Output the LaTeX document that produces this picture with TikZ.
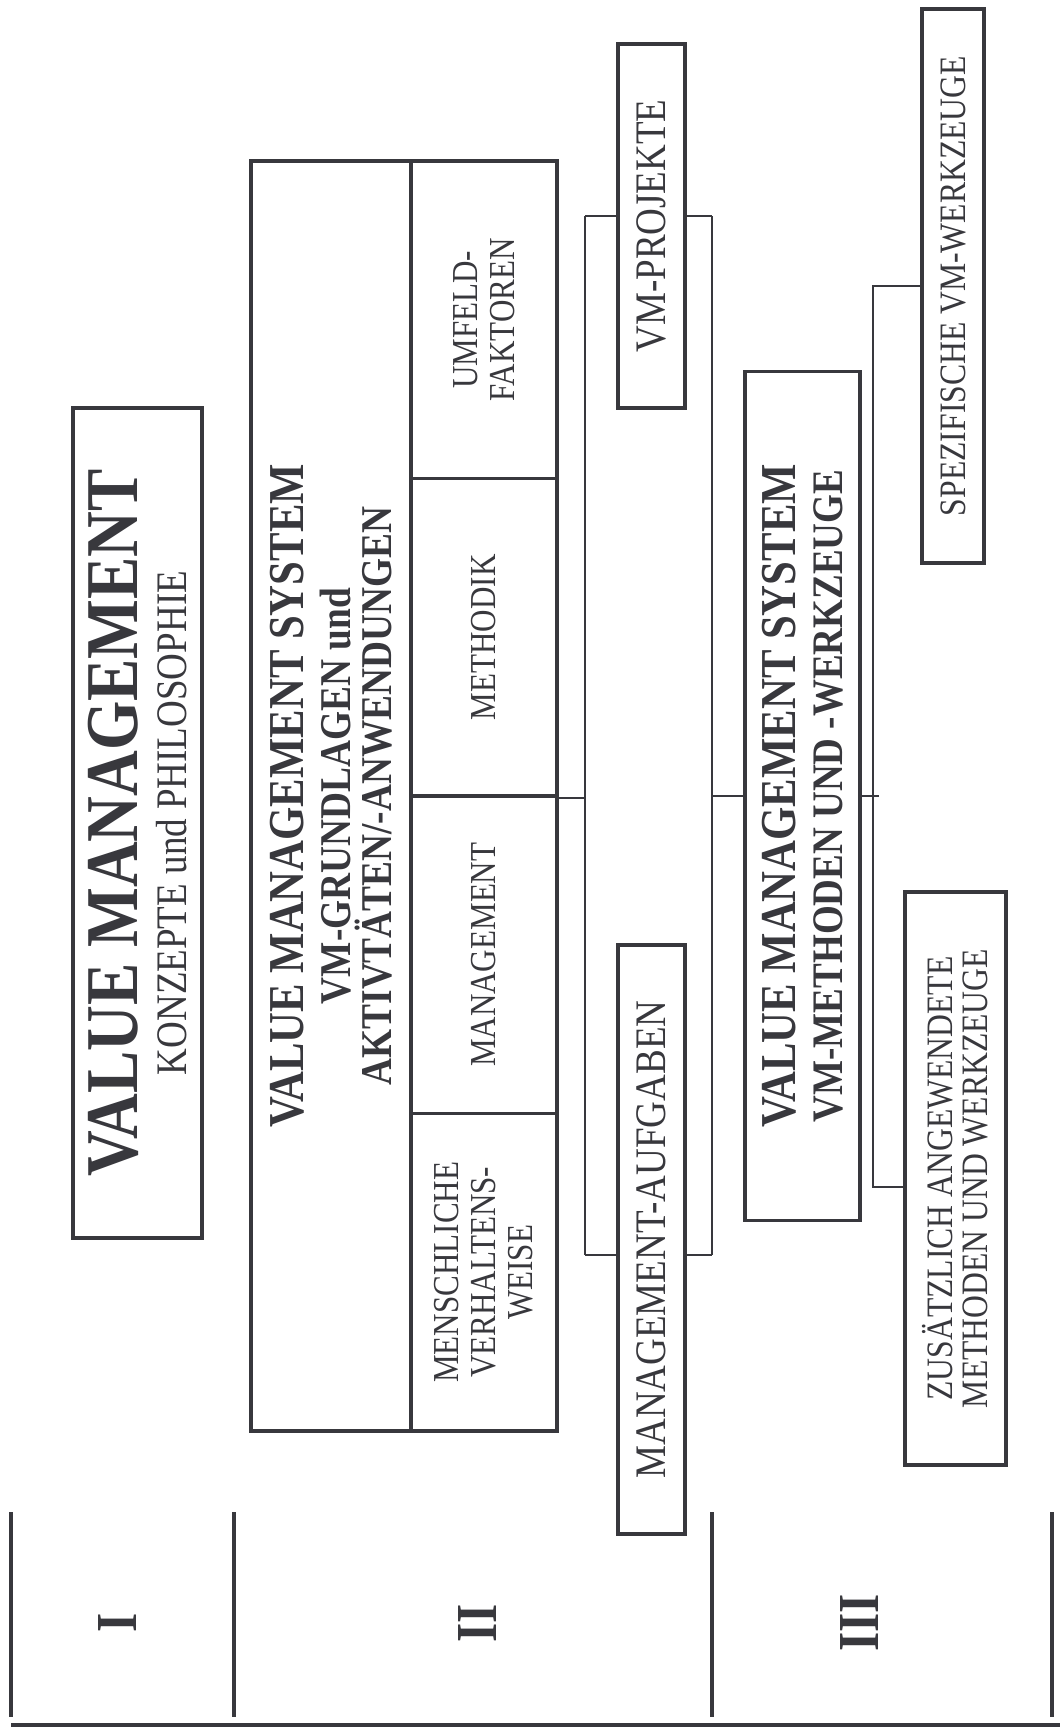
\documentclass[tikz,border=0pt]{standalone}
\usepackage{fontspec}
\setmainfont{Liberation Serif}[FakeStretch=0.85]
\usepackage{tikz}
\usetikzlibrary{calc}
\definecolor{ink}{RGB}{56,56,61}

\begin{document}
\begin{tikzpicture}[
        x=0.1mm, y=-0.1mm,
        box/.style={draw=ink, line width=1.1pt, fill=white, rotate=90, inner sep=0pt, align=center, text=ink},
        link/.style={draw=ink, line width=0.5pt},
        rule/.style={draw=ink, line width=1.4pt},
        numeral/.style={rotate=90, text=ink, font=\fontsize{16.5}{18}\selectfont\bfseries}
    ]
    \useasboundingbox (0,0) rectangle (1060,1736);

    %=== Bracket corners ===%
    \coordinate (b1top) at (585,216);
    \coordinate (b1bot) at (585,1255);
    \coordinate (b1topr) at (712,216);
    \coordinate (b1botr) at (712,1255);
    \coordinate (b2top) at (873,286);
    \coordinate (b2bot) at (873,1187);

    %=== Level I ===%
    \node[box, minimum width=83mm, minimum height=12.9mm, font=\fontsize{12.4}{13.7}\selectfont] (vm) at (137.5,823)
        {{\fontsize{21.2}{21}\selectfont\bfseries VALUE MANAGEMENT}\\
         KONZEPTE und PHILOSOPHIE};

    %=== Level II ===%
    \node[box, minimum width=127mm, minimum height=16mm, font=\fontsize{12.5}{11.7}\selectfont\bfseries] (vmsys) at (331,796)
        {{\fontsize{14.3}{14}\selectfont VALUE MANAGEMENT SYSTEM}\\[1.7pt]
         VM-GRUNDLAGEN und\\
         AKTIVTÄTEN/-ANWENDUNGEN};

    %=== Cell Macro ===%
    \newcommand{\fieldcell}[3]{
        \node[box, minimum width=31.75mm, minimum height=14.6mm,
              font=\fontsize{10.4}{10.5}\selectfont] (#1) at (484,#2) {#3};
    }
    \fieldcell{umfeld}{319.75}{UMFELD-\\FAKTOREN}
    \fieldcell{methodik}{637.25}{METHODIK}
    \fieldcell{mgmt}{954.75}{MANAGEMENT}
    \fieldcell{mensch}{1272.25}{MENSCHLICHE\\VERHALTENS-\\WEISE}

    % bracket behind the two task boxes
    \draw[link] (b1top) -- (b1bot);
    \draw[link] (b1topr) -- (b1botr);

    \node[box, minimum width=36.4mm, minimum height=6.7mm, font=\fontsize{12.4}{13}\selectfont] (vmproj) at (651.5,226) {VM-PROJEKTE};
    \node[box, minimum width=58.9mm, minimum height=6.7mm, font=\fontsize{12.4}{13}\selectfont] (aufg) at (651.5,1239.5) {MANAGEMENT-AUFGABEN};

    \draw[link] (vmproj.north |- b1top) -- (b1top);
    \draw[link] (aufg.north |- b1bot) -- (b1bot);
    \draw[link] (vmproj.south |- b1topr) -- (b1topr);
    \draw[link] (aufg.south |- b1botr) -- (b1botr);
    \draw[link] (methodik.south west) -- (methodik.south west -| b1top);

    %=== Level III ===%
    \node[box, minimum width=84.9mm, minimum height=11.5mm, font=\fontsize{12.4}{13.4}\selectfont\bfseries] (vmmeth) at (802.5,796)
        {{\fontsize{14.3}{14}\selectfont VALUE MANAGEMENT SYSTEM}\\
         VM-METHODEN UND -WERKZEUGE};
    \draw[link] (b1topr |- vmmeth) -- (vmmeth.north);

    \node[box, minimum width=55.4mm, minimum height=6.2mm, font=\fontsize{10.6}{11}\selectfont] (spez) at (953,286) {SPEZIFISCHE VM-WERKZEUGE};
    \node[box, minimum width=57.3mm, minimum height=10.1mm, font=\fontsize{10.6}{10}\selectfont] (zus) at (955.5,1178.5)
        {ZUSÄTZLICH ANGEWENDETE\\METHODEN UND WERKZEUGE};

    \draw[link] (vmmeth.south) -- ($(vmmeth.south -| b2top)+(6,0)$);
    \draw[link] (spez.north) -- (b2top) -- (b2bot) -- (zus.north |- b2bot);

    %=== Level scale ===%
    \foreach \xr in {11,234,712,1052}
        \draw[rule] (\xr,1512) -- (\xr,1717);
    \draw[rule] (11,1725) -- (1060,1725);
    \node[numeral] (lvlone) at (118,1623) {I};
    \node[numeral] (lvltwo) at (478,1623) {II};
    \node[numeral] (lvlthree) at (860,1623) {III};
\end{tikzpicture}
\end{document}
